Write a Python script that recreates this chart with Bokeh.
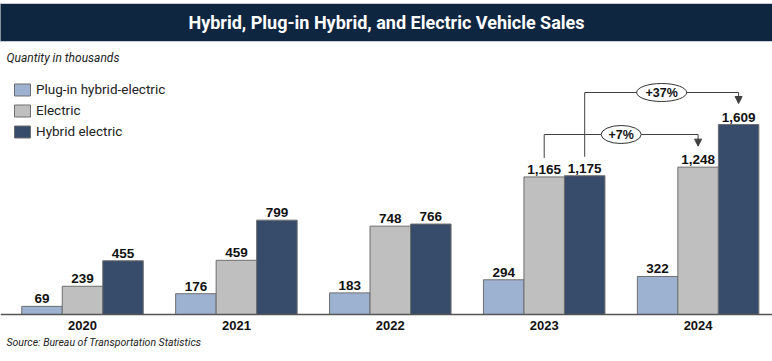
from bokeh.plotting import figure
from bokeh.models import Range1d, Span, Legend, LegendItem, ColumnDataSource, Arrow, NormalHead
from bokeh.core.properties import value
from bokeh.embed import file_html
from bokeh.resources import INLINE
import numpy as np

# ---------------- data ----------------
years = ["2020", "2021", "2022", "2023", "2024"]
series_names = ["Plug-in hybrid-electric", "Electric", "Hybrid electric"]
phev = [69, 176, 183, 294, 322]
electric = [239, 459, 748, 1165, 1248]
hybrid = [455, 799, 766, 1175, 1609]
title_text = "Hybrid, Plug-in Hybrid, and Electric Vehicle Sales"
subtitle_text = "Quantity in thousands"
source_text = "Source: Bureau of Transportation Statistics"

# ---------------- geometry helpers (page px -> data) ----------------
W, H = 772, 361
PX_PER_VAL = 190 / 1609
PX_PER_GROUP = 153.9
X0, Y0 = 82, 314


def xd(X):
    return (X - X0) / PX_PER_GROUP


def yd(Y):
    return (Y0 - Y) / PX_PER_VAL


def dx(px):
    return px / PX_PER_GROUP


def dy(px):
    return px / PX_PER_VAL


p = figure(width=W, height=H, x_range=Range1d(xd(0), xd(W)),
           y_range=Range1d(yd(H), yd(0)), output_backend="svg",
           toolbar_location=None, min_border=0,
           x_axis_location=None, y_axis_location=None)
p.grid.visible = False
p.outline_line_color = None
p.background_fill_color = "white"

# title bar
p.quad(left=[xd(-2)], right=[xd(W + 2)], top=[yd(3)], bottom=[yd(41)],
       fill_color="#0f2641", line_color="#c8ccd2", line_width=1)
p.text(x=[xd(386)], y=[yd(22)], text=[title_text], text_color="white",
       text_font=value("Roboto"), text_font_style="bold", text_font_size="18px",
       text_align="center", text_baseline="middle")
p.text(x=[xd(6)], y=[yd(57)], text=[subtitle_text], text_color="#222222",
       text_font=value("Roboto"), text_font_style="italic", text_font_size="12px",
       text_align="left", text_baseline="middle")
p.text(x=[xd(6)], y=[yd(342)], text=[source_text], text_color="#222222",
       text_font=value("Roboto"), text_font_style="italic", text_font_size="10.5px",
       text_align="left", text_baseline="middle")

# bars
idx = np.arange(len(years), dtype=float)
bw = dx(40.5)
colors = ["#9db1d1", "#bfbfbf", "#374b6a"]
renderers = []
for k, (vals, col) in enumerate(zip([phev, electric, hybrid], colors)):
    xs = idx + (k - 1) * bw
    src = ColumnDataSource(dict(x=xs, top=vals,
                                lab=[f"{v:,}" for v in vals]))
    r = p.vbar(x="x", top="top", bottom=0, width=bw, source=src,
               fill_color=col, line_color="#6e6e6e", line_width=1)
    renderers.append(r)
    p.text(x="x", y="top", text="lab", source=src, text_color="#111111",
           text_font=value("Liberation Sans"), text_font_style="bold",
           text_font_size="13.5px", text_align="center", text_baseline="bottom",
           y_offset=-3)

# baseline
p.add_layout(Span(location=0, dimension="width", line_color="#555555", line_width=1.5))

# year labels
p.text(x=idx, y=[0] * len(years), text=years, text_color="#111111",
       text_font=value("Liberation Sans"), text_font_style="bold",
       text_font_size="13px", text_align="center", text_baseline="top",
       y_offset=6)

# legend
legend = Legend(items=[LegendItem(label=n, renderers=[r]) for n, r in zip(series_names, renderers)],
                location=(12, H - 139), glyph_width=20, glyph_height=15, spacing=5,
                padding=0, margin=0, label_standoff=4, border_line_alpha=0,
                background_fill_alpha=0, label_text_font="Roboto",
                label_text_font_size="13.5px", label_text_color="#222222",
                label_height=15)
p.add_layout(legend)

# growth brackets
i23, i24 = years.index("2023"), years.index("2024")
line_col = "#404040"


def bracket(x_from, top_from, x_to, top_to, level_y, pct, ew):
    y_start = top_from + dy(19)
    y_tip = top_to + dy(21)
    p.line(x=[x_from, x_from, x_to, x_to], y=[y_start, level_y, level_y, y_tip + dy(5)],
           line_color=line_col, line_width=1)
    p.add_layout(Arrow(end=NormalHead(size=7, fill_color=line_col, line_color=line_col),
                       x_start=x_to, y_start=y_tip + dy(7), x_end=x_to, y_end=y_tip,
                       line_color=line_col, line_width=1))
    xm = (x_from + x_to) / 2
    p.ellipse(x=[xm], y=[level_y], width=dx(ew), height=dy(18), fill_color="white",
              line_color="#333333", line_width=1)
    p.text(x=[xm], y=[level_y], text=[pct], text_color="#111111",
           text_font=value("Liberation Sans"), text_font_style="bold",
           text_font_size="12.5px", text_align="center", text_baseline="middle")


pct_e = f"+{round((electric[i24] / electric[i23] - 1) * 100)}%"
pct_h = f"+{round((hybrid[i24] / hybrid[i23] - 1) * 100)}%"
bracket(idx[i23], electric[i23], idx[i24], electric[i24], yd(134), pct_e, 40)
bracket(idx[i23] + bw, hybrid[i23], idx[i24] + bw, hybrid[i24], yd(92), pct_h, 50)

open("out.html", "w").write(file_html(p, INLINE))
